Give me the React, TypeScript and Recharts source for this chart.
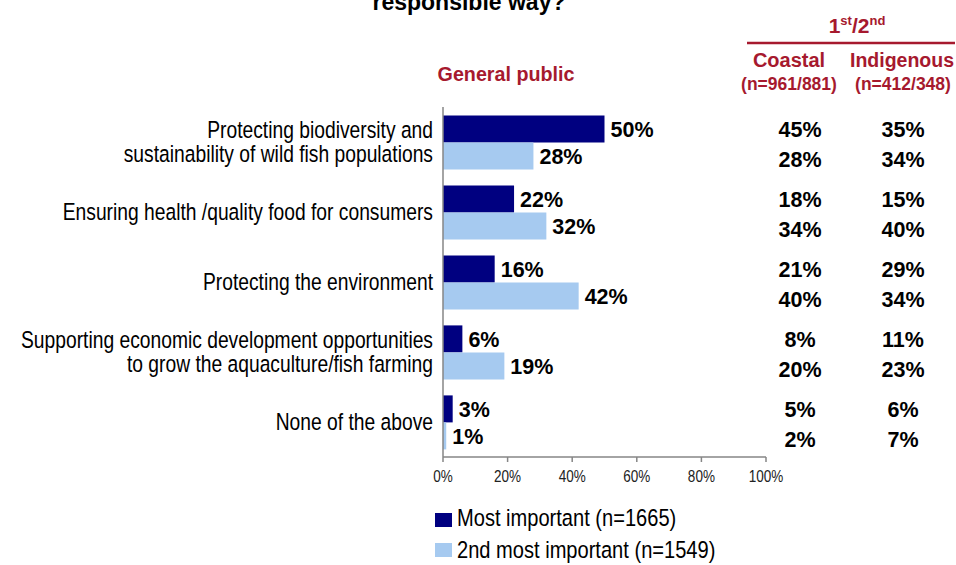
import React from "react";
import { BarChart, Bar, XAxis, YAxis, LabelList } from "recharts";

const categories = [
  "Protecting biodiversity and\nsustainability of wild fish populations",
  "Ensuring health /quality food for consumers",
  "Protecting the environment",
  "Supporting economic development opportunities\nto grow the aquaculture/fish farming",
  "None of the above",
];
const mostImportant = [50, 22, 16, 6, 3];
const secondImportant = [28, 32, 42, 19, 1];
const coastalFirst = [45, 18, 21, 8, 5];
const coastalSecond = [28, 34, 40, 20, 2];
const indigenousFirst = [35, 15, 29, 11, 6];
const indigenousSecond = [34, 40, 34, 23, 7];
const xTicks = [0, 20, 40, 60, 80, 100];
const seriesNames = ["Most important (n=1665)", "2nd most important (n=1549)"];

const DARK = "#000080";
const LIGHT = "#A6CAF0";
const CRIMSON = "#A6192E";
const AXIS = "#868686";
const SANS = "'Liberation Sans', Arial, sans-serif";
const NARROW_SCALE = 0.82;

const NarrowText = ({ x, y, anchor = "start", size, fill = "#000", children }: any) => (
  <text
    transform={`translate(${x},${y}) scale(${NARROW_SCALE},1)`}
    x={0}
    y={0}
    textAnchor={anchor}
    fontFamily={SANS}
    fontSize={size}
    fill={fill}
  >
    {children}
  </text>
);

const data = categories.map((c, i) => ({
  category: c,
  most: mostImportant[i],
  second: secondImportant[i],
  c1: coastalFirst[i],
  c2: coastalSecond[i],
  n1: indigenousFirst[i],
  n2: indigenousSecond[i],
}));

const CategoryTick = (props: any) => {
  const { x, y, payload } = props;
  const lines = String(payload.value).split("\n");
  const lh = 24;
  const fs = 23.5;
  return (
    <g>
      {lines.map((ln, i) => (
        <NarrowText key={i} x={x} y={y + (i - (lines.length - 1) / 2) * lh + fs * 0.36} anchor="end" size={fs}>
          {ln}
        </NarrowText>
      ))}
    </g>
  );
};

const XTick = (props: any) => {
  const { x, y, payload } = props;
  const fs = 16.5;
  return (
    <NarrowText x={x} y={y + fs * 0.71} anchor="middle" size={fs} fill="#222">
      {`${payload.value}%`}
    </NarrowText>
  );
};

const tableCell = (colX: number, dy: number) => (props: any) => {
  const vb = props.viewBox || props;
  const cy = vb.y + vb.height / 2;
  const fs = 21.5;
  return (
    <text
      x={colX}
      y={cy + fs * 0.36 + dy}
      textAnchor="middle"
      fontFamily={SANS}
      fontWeight="bold"
      fontSize={fs}
      fill="#000"
    >
      {props.value}%
    </text>
  );
};

const valueLabelStyle = { fontFamily: SANS, fontWeight: "bold", fontSize: 21.5, fill: "#000" } as any;

export default function App() {
  return (
    <div style={{ position: "absolute", left: 0, top: 0, width: 956, height: 565, background: "#fff" }}>
      <BarChart
        width={956}
        height={565}
        data={data}
        layout="vertical"
        margin={{ top: 107, right: 190, bottom: 78, left: 0 }}
        barCategoryGap="12%"
        barGap={0}
      >
        <XAxis
          type="number"
          domain={[0, 100]}
          ticks={xTicks}
          height={30}
          tickSize={5}
          tickMargin={8}
          axisLine={{ stroke: AXIS, strokeWidth: 1.5 }}
          tickLine={{ stroke: AXIS, strokeWidth: 1.5 }}
          tick={<XTick />}
          interval={0}
        />
        <YAxis
          type="category"
          dataKey="category"
          width={443}
          tickLine={false}
          tickSize={0}
          tickMargin={10}
          axisLine={{ stroke: AXIS, strokeWidth: 1.5 }}
          tick={<CategoryTick />}
          interval={0}
        />
        <Bar dataKey="most" name={seriesNames[0]} fill={DARK} isAnimationActive={false}>
          <LabelList dataKey="most" position="right" offset={6} formatter={(v: any) => `${v}%`} style={valueLabelStyle} />
          <LabelList dataKey="c1" content={tableCell(800, 0)} />
          <LabelList dataKey="n1" content={tableCell(903, 0)} />
        </Bar>
        <Bar dataKey="second" name={seriesNames[1]} fill={LIGHT} isAnimationActive={false}>
          <LabelList dataKey="second" position="right" offset={6} formatter={(v: any) => `${v}%`} style={valueLabelStyle} />
          <LabelList dataKey="c2" content={tableCell(800, 3)} />
          <LabelList dataKey="n2" content={tableCell(903, 3)} />
        </Bar>
      </BarChart>
      <svg
        width={956}
        height={565}
        style={{ position: "absolute", left: 0, top: 0, pointerEvents: "none" }}
      >
        <text x={469} y={10} textAnchor="middle" fontFamily={SANS} fontWeight="bold" fontSize={23} fill="#000">
          responsible way?
        </text>
        <text x={857} y={33} textAnchor="middle" fontFamily={SANS} fontWeight="bold" fontSize={21} fill={CRIMSON}>
          1<tspan fontSize={13} dy={-8}>st</tspan>
          <tspan dy={8}>/2</tspan>
          <tspan fontSize={13} dy={-8}>nd</tspan>
        </text>
        <line x1={747} x2={955} y1={43} y2={43} stroke={CRIMSON} strokeWidth={2.5} />
        <text x={789} y={67} textAnchor="middle" fontFamily={SANS} fontWeight="bold" fontSize={20} fill={CRIMSON}>
          Coastal
        </text>
        <text x={902} y={67} textAnchor="middle" fontFamily={SANS} fontWeight="bold" fontSize={19.5} fill={CRIMSON}>
          Indigenous
        </text>
        <text x={789} y={90} textAnchor="middle" fontFamily={SANS} fontWeight="bold" fontSize={17.5} fill={CRIMSON}>
          (n=961/881)
        </text>
        <text x={903} y={90} textAnchor="middle" fontFamily={SANS} fontWeight="bold" fontSize={17.5} fill={CRIMSON}>
          (n=412/348)
        </text>
        <text x={506} y={81} textAnchor="middle" fontFamily={SANS} fontWeight="bold" fontSize={19.7} fill={CRIMSON}>
          General public
        </text>
        {seriesNames.map((n, i) => (
          <g key={n}>
            <rect x={435} y={513 + i * 30} width={17} height={14} fill={i === 0 ? DARK : LIGHT} />
            <NarrowText x={457} y={526 + i * 32} size={24.5}>
              {n}
            </NarrowText>
          </g>
        ))}
      </svg>
    </div>
  );
}
